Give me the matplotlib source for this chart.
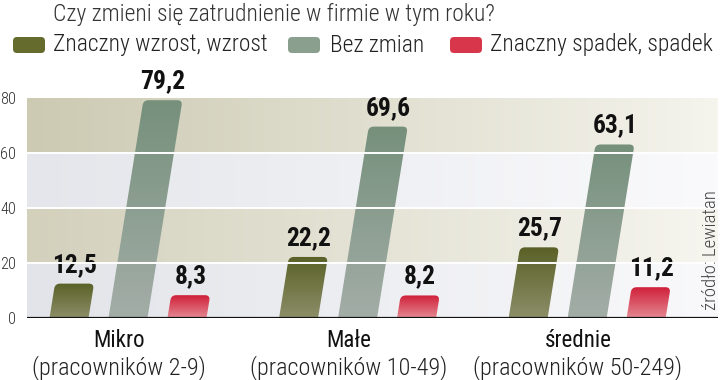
import numpy as np
import matplotlib
matplotlib.use("Agg")
import matplotlib.pyplot as plt
from matplotlib import font_manager as fm
from matplotlib.patches import FancyBboxPatch
from matplotlib.colors import to_rgb
from matplotlib.transforms import Affine2D

# dane
title = "Czy zmieni się zatrudnienie w firmie w tym roku?"
series = ["Znaczny wzrost, wzrost", "Bez zmian", "Znaczny spadek, spadek"]
categories = ["Mikro", "Małe", "średnie"]
subcats = ["(pracowników 2-9)", "(pracowników 10-49)", "(pracowników 50-249)"]
wzrost = [12.5, 22.2, 25.7]
bez_zmian = [79.2, 69.6, 63.1]
spadek = [8.3, 8.2, 11.2]
yticks = [0, 20, 40, 60, 80]
source = "źródło: Lewiatan"


# szukamy waskiej czcionki (condensed / narrow)
def weight_num(wt):
    if isinstance(wt, str):
        return fm.weight_dict.get(wt, 400)
    return wt


def find_font(target):
    prefer = ["Roboto Condensed", "Liberation Sans Narrow", "DejaVu Sans",
              "Noto Sans", "Open Sans"]
    best, best_score = None, None
    for f in fm.fontManager.ttflist:
        nm = f.name.lower()
        cond = "narrow" in nm or "condensed" in nm or "condensed" in str(f.stretch)
        if not cond or f.style != "normal":
            continue
        wt = weight_num(f.weight)
        score = prefer.index(f.name) if f.name in prefer else len(prefer)
        score = score * 1000 + abs(wt - target)
        if best_score is None or score < best_score:
            best, best_score = f.fname, score
    return best


font_files = {wt: find_font(wt) for wt in (300, 400, 700)}


def fp(wt=300):
    f = font_files[wt]
    if f:
        return fm.FontProperties(fname=f)
    return fm.FontProperties(family=["Roboto", "DejaVu Sans"], weight=wt)


fig = plt.figure(figsize=(7.2, 3.8), dpi=100)
renderer = fig.canvas.get_renderer()


def fit(txt, target, vertical=False):
    # dopasuj rozmiar czcionki do szerokosci z obrazka
    for _ in range(3):
        bb = txt.get_window_extent(renderer=renderer)
        cur = bb.height if vertical else bb.width
        txt.set_fontsize(txt.get_fontsize() * target / cur)
    return txt.get_fontsize()


def size_for(s, target, wt):
    probe = fig.text(0, 0, s, fontproperties=fp(wt), fontsize=16)
    size = fit(probe, target)
    probe.remove()
    return size


top_cols = ["#5a6127", "#76907c", "#d0203a"]
bot_cols = ["#8c8e68", "#a3ada7", "#e48892"]
leg_cols = ["#646b2d", "#8a9f8e", "#d8364a"]

ax = fig.add_axes([27 / 720, 62 / 380, 691 / 720, 220 / 380])
x0, x1 = -0.44, 2.57

# tlo - pasy z gradientem
band_left = [(226, 228, 233), (211, 209, 188), (228, 230, 235), (204, 202, 178)]
band_right = [(249, 249, 251), (246, 245, 239), (250, 250, 252), (245, 244, 237)]
t = np.linspace(0, 1, 300)
bg = np.zeros((len(band_left), len(t), 3))
for i in range(len(band_left)):
    l = np.array(band_left[i]) / 255
    r = np.array(band_right[i]) / 255
    bg[i] = l[None, :] * (1 - t[:, None]) + r[None, :] * t[:, None]
ax.imshow(bg, extent=(x0, x1, 0, 80), origin="lower", aspect="auto",
          interpolation="nearest", zorder=0)

val_size = size_for("79,2", 45, 700)

# slupki - pochylone, zaokraglona gora
k = 0.00192
skew = Affine2D().skew(np.arctan(k), 0)
w = 0.17
offsets = [-0.257, 0.0, 0.257]
r = 0.022
for s, vals in enumerate([wzrost, bez_zmian, spadek]):
    grad = np.zeros((100, 2, 3))
    tt = np.linspace(0, 1, 100)
    c0 = np.array(to_rgb(bot_cols[s]))
    c1 = np.array(to_rgb(top_cols[s]))
    grad[:, 0] = c0 * (1 - tt[:, None]) + c1 * tt[:, None]
    grad[:, 1] = grad[:, 0]
    for i, v in enumerate(vals):
        xc = i + offsets[s]
        patch = FancyBboxPatch((xc - w / 2, -5), w, v + 5,
                               boxstyle=f"round,pad=0,rounding_size={r}",
                               mutation_aspect=83, facecolor="none",
                               edgecolor="none", transform=skew + ax.transData)
        ax.add_patch(patch)
        im = ax.imshow(grad, extent=(xc - w / 2, xc + w / 2 + k * v + 0.01, 0, v),
                       origin="lower", aspect="auto", zorder=2)
        im.set_clip_path(patch)
        ax.annotate(f"{v:.1f}".replace(".", ","), xy=(xc + k * v, v),
                    xytext=(0, 8.5), textcoords="offset points",
                    ha="center", va="baseline", fontproperties=fp(700),
                    fontsize=val_size, color="#111111")

ax.set_xlim(x0, x1)
ax.set_ylim(0, 80)

for y in yticks[1:-1]:
    ax.axhline(y, color="white", lw=1.4, zorder=4)
ax.axhline(0, color="#111111", lw=1.6, zorder=5)

for sp in ax.spines.values():
    sp.set_visible(False)
ax.set_xticks([])
ax.set_yticks(yticks)
tick_size = size_for("80", 16, 300)
ax.set_yticklabels([str(y) for y in yticks], fontproperties=fp(300),
                   fontsize=tick_size, color="#333333")
ax.tick_params(axis="y", length=0, pad=8)

# etykiety kategorii
cat_size = size_for(categories[1], 45, 400)
sub_size = size_for(subcats[1], 198, 300)
for i, (c, sc) in enumerate(zip(categories, subcats)):
    ax.annotate(c, xy=(i - 0.04, 0), xytext=(0, -16), textcoords="offset points",
                ha="center", va="center", fontproperties=fp(400),
                fontsize=cat_size, color="#111111")
    ax.annotate(sc, xy=(i - 0.04, 0), xytext=(0, -35.5), textcoords="offset points",
                ha="center", va="center", fontproperties=fp(300),
                fontsize=sub_size, color="#222222")

# tytul i legenda
tt_ = fig.text(53 / 720, 1 - 14 / 380, title, ha="left", va="center",
               fontproperties=fp(300), fontsize=16, color="#333333")
fit(tt_, 444)
leg_x = [13, 288, 450]
txt_x = [53, 330, 490]
leg_size = size_for(series[0], 215, 300)
for s in range(len(series)):
    p = FancyBboxPatch((leg_x[s] / 100, (380 - 53) / 100), 0.32, 0.16,
                       boxstyle="round,pad=0,rounding_size=0.04",
                       facecolor=leg_cols[s], edgecolor="none",
                       transform=fig.dpi_scale_trans)
    fig.patches.append(p)
    fig.text(txt_x[s] / 720, 1 - 45 / 380, series[s], ha="left", va="center",
             fontproperties=fp(300), fontsize=leg_size, color="#222222")

src = fig.text(711 / 720, 1 - 250 / 380, source, rotation=90, ha="center",
               va="center", fontproperties=fp(300), fontsize=12.5, color="#444444")
fit(src, 120, vertical=True)

fig.savefig("out.png", dpi=100)
